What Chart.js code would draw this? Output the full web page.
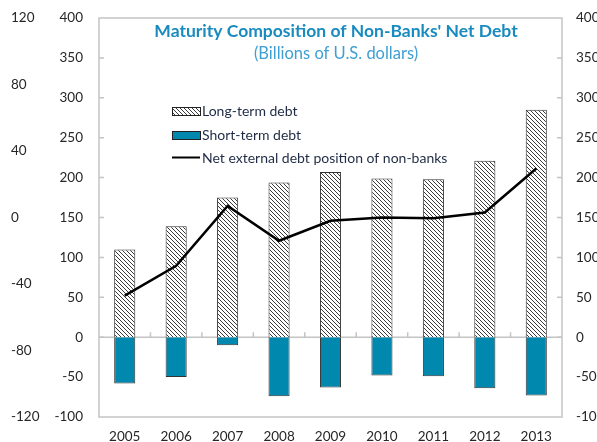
<!DOCTYPE html>
<html>
<head>
<meta charset="utf-8">
<script src="https://cdn.jsdelivr.net/npm/chart.js@4"></script>
<style>
  html, body { margin: 0; padding: 0; background: #fff; }
  #wrap { width: 597px; height: 442px; position: relative; }
</style>
</head>
<body>
<div id="wrap"><canvas id="debtChart" width="597" height="442"></canvas></div>
<script>
// 数据
const years = ['2005', '2006', '2007', '2008', '2009', '2010', '2011', '2012', '2013'];
const longTermDebt = [110, 139, 175, 194, 207, 199, 198, 221, 285];
const shortTermDebt = [-58, -50, -10, -74, -63, -48, -49, -64, -73];
const netPosition = [-47, -29, 7, -14, -2, 0, -0.5, 3, 29.5];
const innerTicks = [-100, 0, 50, 100, 150, 200, 250, 300, 350, 400];
const farTicks = [-120, -80, -40, 0, 40, 80, 120];

const titleText = "Maturity Composition of Non-Banks' Net Debt";
const subtitleText = '(Billions of U.S. dollars)';
const legendLabels = ['Long-term debt', 'Short-term debt', 'Net external debt position of non-banks'];

const FONT = 'Lato, "Open Sans", sans-serif';
const TEAL = '#0088ae';

// 斜线填充
function makeHatch() {
    const c = document.createElement('canvas');
    c.width = 4; c.height = 4;
    const g = c.getContext('2d');
    g.fillStyle = '#fff';
    g.fillRect(0, 0, 4, 4);
    g.strokeStyle = '#3a3a3a';
    g.lineWidth = 1;
    g.beginPath();
    g.moveTo(0, 0); g.lineTo(4, 4);
    g.moveTo(-1, 3); g.lineTo(1, 5);
    g.moveTo(3, -1); g.lineTo(5, 1);
    g.stroke();
    return g.createPattern(c, 'repeat');
}
const hatch = makeHatch();

// 固定坐标轴尺寸，去掉标签留白
function fixSize(w, h) {
    return function (s) {
        if (w !== null) s.width = w;
        if (h !== null) s.height = h;
        s.paddingTop = 0; s.paddingBottom = 0;
        s.paddingLeft = 0; s.paddingRight = 0;
    };
}

// 边框、刻度、标题和图例
const decorPlugin = {
    id: 'decor',
    beforeDatasetsDraw(chart) {
        const ctx = chart.ctx;
        const a = chart.chartArea;
        const y = chart.scales.y;
        const zero = y.getPixelForValue(0);
        ctx.save();
        ctx.strokeStyle = '#c4c4c4';
        ctx.lineWidth = 1.5;
        ctx.beginPath();
        ctx.moveTo(a.left, zero); ctx.lineTo(a.right, zero);
        // 分类刻度
        const step = (a.right - a.left) / years.length;
        for (let i = 1; i < years.length; i++) {
            const px = a.left + step * i;
            ctx.moveTo(px, zero); ctx.lineTo(px, zero - 5);
        }
        ctx.stroke();
        ctx.restore();
    },
    afterDraw(chart) {
        const ctx = chart.ctx;
        const a = chart.chartArea;
        const y = chart.scales.y;
        ctx.save();
        ctx.strokeStyle = '#c4c4c4';
        ctx.lineWidth = 1.5;
        ctx.strokeRect(a.left, a.top, a.right - a.left, a.bottom - a.top);
        ctx.beginPath();
        innerTicks.forEach(v => {
            if (v === 400 || v === -100) return;
            const py = y.getPixelForValue(v);
            ctx.moveTo(a.left, py); ctx.lineTo(a.left + 5, py);
            ctx.moveTo(a.right, py); ctx.lineTo(a.right - 5, py);
        });
        ctx.stroke();

        // 标题
        ctx.textAlign = 'center';
        ctx.textBaseline = 'middle';
        ctx.fillStyle = '#1a8bbf';
        ctx.font = 'bold 17.5px ' + FONT;
        ctx.fillText(titleText, 336, 31);
        ctx.fillStyle = '#3f9fd3';
        ctx.font = '16.5px ' + FONT;
        ctx.fillText(subtitleText, 336, 54);

        // 图例
        const lx = 172, lw = 28;
        ctx.lineWidth = 1;
        ctx.strokeStyle = '#222';
        ctx.fillStyle = hatch;
        ctx.fillRect(lx, 107, lw, 8);
        ctx.strokeRect(lx + 0.5, 107.5, lw, 8);
        ctx.fillStyle = TEAL;
        ctx.fillRect(lx, 131, lw, 8);
        ctx.strokeRect(lx + 0.5, 131.5, lw, 8);
        ctx.strokeStyle = '#000';
        ctx.lineWidth = 2;
        ctx.beginPath();
        ctx.moveTo(lx, 157.5); ctx.lineTo(lx + lw, 157.5);
        ctx.stroke();
        ctx.textAlign = 'left';
        ctx.fillStyle = '#1f2b45';
        ctx.font = '14px ' + FONT;
        ctx.fillText(legendLabels[0], 202, 111);
        ctx.fillText(legendLabels[1], 202, 135);
        ctx.fillText(legendLabels[2], 202, 158);
        ctx.restore();
    }
};

const tickFont = { family: FONT, size: 13.5 };
const tickColor = '#262626';

new Chart(document.getElementById('debtChart'), {
    type: 'bar',
    data: {
        labels: years,
        datasets: [
            {
                label: legendLabels[2],
                type: 'line',
                data: netPosition,
                yAxisID: 'yFar',
                borderColor: '#000',
                borderWidth: 2.5,
                pointRadius: 0,
                tension: 0,
                order: 0
            },
            {
                label: legendLabels[0],
                data: longTermDebt,
                yAxisID: 'y',
                backgroundColor: hatch,
                borderColor: '#333',
                borderWidth: 1,
                categoryPercentage: 1,
                barPercentage: 0.41,
                order: 1
            },
            {
                label: legendLabels[1],
                data: shortTermDebt,
                yAxisID: 'y',
                backgroundColor: TEAL,
                borderColor: '#333',
                borderWidth: 1,
                categoryPercentage: 1,
                barPercentage: 0.41,
                order: 1
            }
        ]
    },
    options: {
        responsive: false,
        animation: false,
        devicePixelRatio: 1,
        layout: { padding: { left: 11, top: 18, right: 0, bottom: 0 } },
        plugins: {
            legend: { display: false },
            tooltip: { enabled: false }
        },
        scales: {
            x: {
                stacked: true,
                grid: { display: false, drawTicks: false },
                border: { display: false },
                ticks: { font: tickFont, color: tickColor, padding: 12 },
                afterFit: fixSize(null, 25)
            },
            y: {
                stacked: true,
                position: 'left',
                weight: 0,
                min: -100,
                max: 400,
                grid: { display: false, drawTicks: false },
                border: { display: false },
                ticks: { stepSize: 50, font: tickFont, color: tickColor, padding: 16 },
                afterFit: fixSize(54, null)
            },
            yFar: {
                position: 'left',
                weight: 1,
                min: -120,
                max: 120,
                grid: { display: false, drawTicks: false },
                border: { display: false },
                ticks: { stepSize: 40, font: tickFont, color: tickColor, crossAlign: 'far' },
                afterFit: fixSize(34, null)
            },
            yRight: {
                position: 'right',
                min: -100,
                max: 400,
                grid: { display: false, drawTicks: false },
                border: { display: false },
                ticks: { stepSize: 50, font: tickFont, color: tickColor, padding: 14 },
                afterFit: fixSize(35, null)
            }
        }
    },
    plugins: [decorPlugin]
});
</script>
</body>
</html>
